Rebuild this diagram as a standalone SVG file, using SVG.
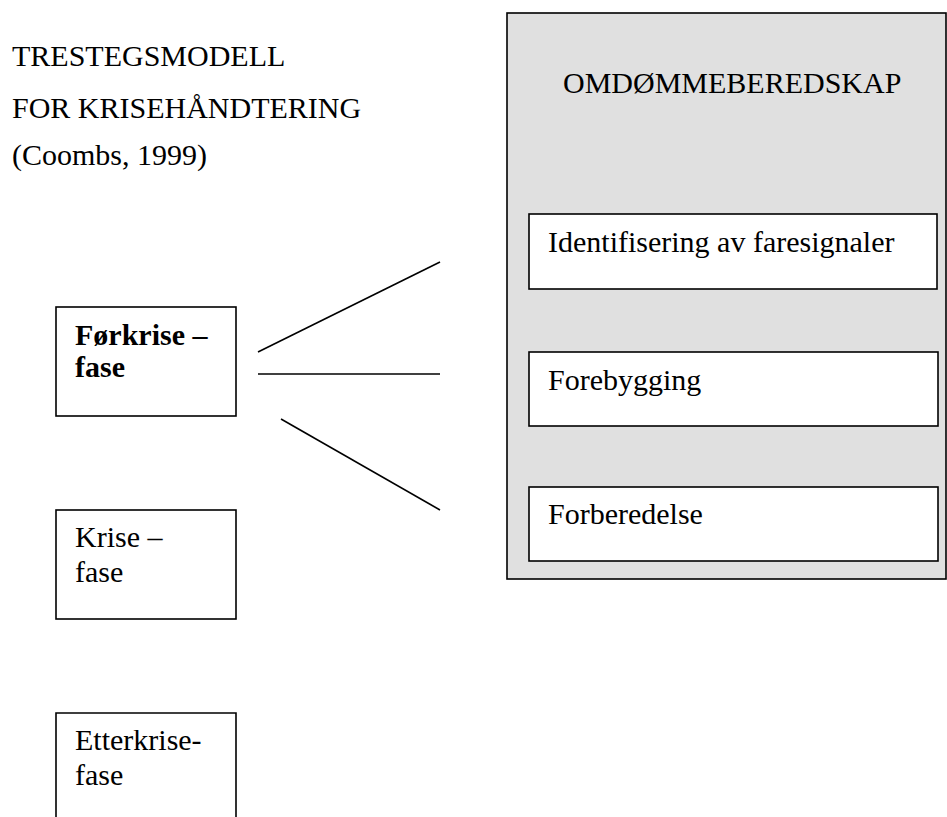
<svg xmlns="http://www.w3.org/2000/svg" width="947" height="817" viewBox="0 0 947 817">
<style>
text{font-family:"Liberation Serif","Times New Roman",serif;font-size:30px;fill:#000}
.b{font-weight:bold}
.box{fill:#fff;stroke:#000;stroke-width:1.6}
.panel{fill:#e0e0e0;stroke:#000;stroke-width:1.6}
.conn line{stroke:#000;stroke-width:1.6}
</style>
<rect width="947" height="817" fill="#fff"/>
<g id="title">
<text x="12" y="66">TRESTEGSMODELL</text>
<text x="12" y="118">FOR KRISEHÅNDTERING</text>
<text x="12" y="165">(Coombs, 1999)</text>
</g>
<g id="panel">
<rect class="panel" x="507" y="13" width="439" height="566"/>
<text x="563" y="93">OMDØMMEBEREDSKAP</text>
</g>
<g id="identifisering">
<rect class="box" x="529" y="214" width="408" height="75"/>
<text x="548" y="252">Identifisering av faresignaler</text>
</g>
<g id="forebygging">
<rect class="box" x="529" y="352" width="409" height="74"/>
<text x="548" y="390">Forebygging</text>
</g>
<g id="forberedelse">
<rect class="box" x="529" y="487" width="409" height="74"/>
<text x="548" y="524">Forberedelse</text>
</g>
<g id="forkrise">
<rect class="box" x="56" y="307" width="180" height="109"/>
<text class="b" x="75" y="345">Førkrise –</text>
<text class="b" x="75" y="377">fase</text>
</g>
<g id="krise">
<rect class="box" x="56" y="510" width="180" height="109"/>
<text x="75" y="547">Krise –</text>
<text x="75" y="582">fase</text>
</g>
<g id="etterkrise">
<path class="box" d="M56,817 V713 H236 V817"/>
<text x="75" y="750">Etterkrise-</text>
<text x="75" y="785">fase</text>
</g>
<g class="conn" id="connectors">
<line x1="258" y1="352" x2="440" y2="262"/>
<line x1="258" y1="374" x2="440" y2="374"/>
<line x1="281" y1="419" x2="440" y2="510"/>
</g>
</svg>
